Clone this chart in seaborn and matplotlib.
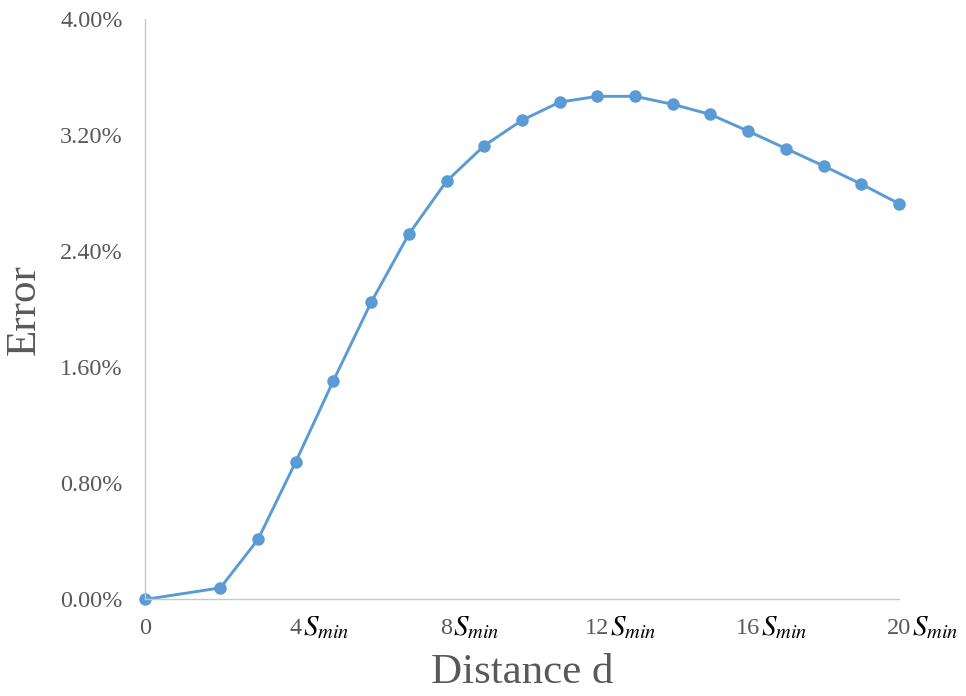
import matplotlib
matplotlib.use("Agg")
import matplotlib.pyplot as plt
import seaborn as sns
import pandas as pd

# Distance (in units of S_min) and relative error (%)
distance = [0, 2, 3, 4, 5, 6, 7, 8, 9, 10, 11, 12, 13, 14, 15, 16, 17, 18, 19, 20]
error_pct = [0.00, 0.08, 0.415, 0.95, 1.51, 2.05, 2.52, 2.885, 3.13, 3.305, 3.43,
             3.47, 3.47, 3.415, 3.345, 3.23, 3.11, 2.99, 2.865, 2.73]

x_ticks = [0, 4, 8, 12, 16, 20]
x_tick_numbers = ["0", "4", "8", "12", "16", "20"]
y_ticks = [0.0, 0.8, 1.6, 2.4, 3.2, 4.0]

df = pd.DataFrame({"d": distance, "err": error_pct})

sns.set_style("white")
plt.rcParams["font.family"] = ["Liberation Serif", "DejaVu Serif"]
plt.rcParams["mathtext.fontset"] = "stix"

fig = plt.figure(figsize=(9.66, 6.96), dpi=100)
ax = fig.add_axes([0.1501, 0.1387, 0.9306 - 0.1501, 0.972 - 0.1387])

blue = "#5B9BD5"
sns.lineplot(data=df, x="d", y="err", ax=ax, color=blue, linewidth=2.1,
             marker="o", markersize=9, markeredgewidth=0, clip_on=False)

ax.set_xlim(0, 20)
ax.set_ylim(0, 4.0)

grey = "#595959"
ax.set_yticks(y_ticks)
ax.set_yticklabels([f"{v:.2f}%" for v in y_ticks])
ax.set_xticks(x_ticks)
ax.set_xticklabels(x_tick_numbers)
ax.tick_params(axis="y", length=0, pad=16, labelsize=17.5, labelcolor=grey)
ax.tick_params(axis="x", length=0, pad=13, labelsize=17.5, labelcolor=grey)

# Unit suffix after each nonzero tick number
fig.canvas.draw()
for lbl in ax.get_xticklabels():
    if lbl.get_text() not in ("", "0"):
        ax.annotate(r"$S_{min}$", xy=(1.0, 0.0), xycoords=lbl,
                    xytext=(0.5, -1.5), textcoords="offset points",
                    ha="left", va="bottom", fontsize=21, color="black")

ax.set_xlabel("Distance d", fontsize=31, color=grey, labelpad=11)
ax.set_ylabel("Error", fontsize=31, color=grey, labelpad=12)

for side in ("top", "right"):
    ax.spines[side].set_visible(False)
for side in ("left", "bottom"):
    ax.spines[side].set_color("#C8C8C8")
    ax.spines[side].set_linewidth(1.0)

fig.savefig("out.png", dpi=100)
